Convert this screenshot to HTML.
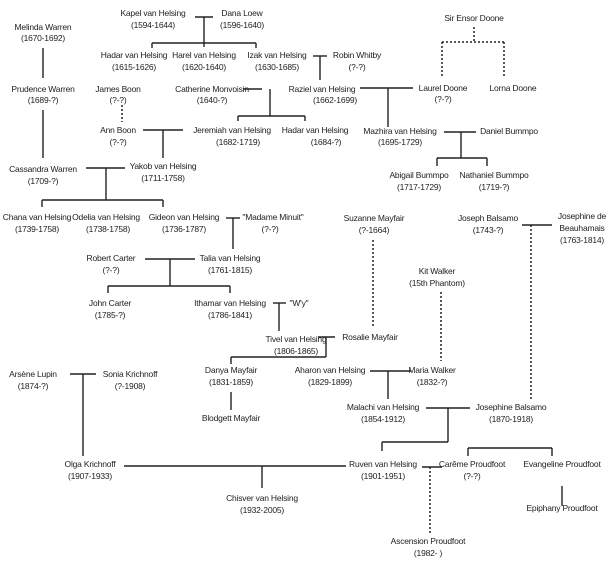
<!DOCTYPE html>
<html><head><meta charset="utf-8"><style>
html,body{margin:0;padding:0;background:#fff;}
svg{display:block;}
text{font-family:"Liberation Sans",Arial,sans-serif;font-size:8.5px;fill:#222;text-anchor:middle;letter-spacing:-0.2px;}
line{stroke:#222;stroke-width:1.4;}
.d{stroke-dasharray:2,2;stroke-width:1.5;}
</style></head><body>
<svg width="612" height="564" viewBox="0 0 612 564" xmlns="http://www.w3.org/2000/svg">
<text x="43" y="30">Melinda Warren</text><text x="43" y="41">(1670-1692)</text>
<text x="153" y="16">Kapel van Helsing</text><text x="153" y="28">(1594-1644)</text>
<text x="242" y="16">Dana Loew</text><text x="242" y="28">(1596-1640)</text>
<text x="134" y="58">Hadar van Helsing</text><text x="134" y="70">(1615-1626)</text>
<text x="204" y="58">Harel van Helsing</text><text x="204" y="70">(1620-1640)</text>
<text x="277" y="58">Izak van Helsing</text><text x="277" y="70">(1630-1685)</text>
<text x="357" y="58">Robin Whitby</text><text x="357" y="70">(?-?)</text>
<text x="474" y="21">Sir Ensor Doone</text>
<text x="43" y="92">Prudence Warren</text><text x="43" y="103">(1689-?)</text>
<text x="118" y="92">James Boon</text><text x="118" y="103">(?-?)</text>
<text x="212" y="92">Catherine Monvoisin</text><text x="212" y="103">(1640-?)</text>
<text x="322" y="92">Raziel van Helsing</text><text x="335" y="103">(1662-1699)</text>
<text x="443" y="91">Laurel Doone</text><text x="443" y="102">(?-?)</text>
<text x="513" y="91">Lorna Doone</text>
<text x="118" y="133">Ann Boon</text><text x="118" y="145">(?-?)</text>
<text x="232" y="133">Jeremiah van Helsing</text><text x="238" y="145">(1682-1719)</text>
<text x="315" y="133">Hadar van Helsing</text><text x="326" y="145">(1684-?)</text>
<text x="400" y="134">Mazhira van Helsing</text><text x="400" y="145">(1695-1729)</text>
<text x="509" y="134">Daniel Bummpo</text>
<text x="419" y="178">Abigail Bummpo</text><text x="419" y="190">(1717-1729)</text>
<text x="494" y="178">Nathaniel Bummpo</text><text x="494" y="190">(1719-?)</text>
<text x="43" y="172">Cassandra Warren</text><text x="43" y="184">(1709-?)</text>
<text x="163" y="169">Yakob van Helsing</text><text x="163" y="181">(1711-1758)</text>
<text x="37" y="220">Chana van Helsing</text><text x="37" y="232">(1739-1758)</text>
<text x="106" y="220">Odelia van Helsing</text><text x="108" y="232">(1738-1758)</text>
<text x="184" y="220">Gideon van Helsing</text><text x="184" y="232">(1736-1787)</text>
<text x="273" y="220">"Madame Minuit"</text><text x="270" y="232">(?-?)</text>
<text x="374" y="221">Suzanne Mayfair</text><text x="374" y="233">(?-1664)</text>
<text x="488" y="221">Joseph Balsamo</text><text x="488" y="233">(1743-?)</text>
<text x="582" y="219">Josephine de</text><text x="582" y="231">Beauhamais</text><text x="582" y="243">(1763-1814)</text>
<text x="111" y="261">Robert Carter</text><text x="111" y="273">(?-?)</text>
<text x="230" y="261">Talia van Helsing</text><text x="230" y="273">(1761-1815)</text>
<text x="437" y="274">Kit Walker</text><text x="437" y="286">(15th Phantom)</text>
<text x="110" y="306">John Carter</text><text x="110" y="318">(1785-?)</text>
<text x="230" y="306">Ithamar van Helsing</text><text x="230" y="318">(1786-1841)</text>
<text x="299" y="306">"W'y"</text>
<text x="296" y="342">Tivel van Helsing</text><text x="296" y="354">(1806-1865)</text>
<text x="370" y="340">Rosalie Mayfair</text>
<text x="33" y="377">Arsène Lupin</text><text x="33" y="389">(1874-?)</text>
<text x="130" y="377">Sonia Krichnoff</text><text x="130" y="389">(?-1908)</text>
<text x="231" y="373">Danya Mayfair</text><text x="231" y="385">(1831-1859)</text>
<text x="330" y="373">Aharon van Helsing</text><text x="330" y="385">(1829-1899)</text>
<text x="432" y="373">Maria Walker</text><text x="432" y="385">(1832-?)</text>
<text x="231" y="421">Blodgett Mayfair</text>
<text x="383" y="410">Malachi van Helsing</text><text x="383" y="422">(1854-1912)</text>
<text x="511" y="410">Josephine Balsamo</text><text x="511" y="422">(1870-1918)</text>
<text x="90" y="467">Olga Krichnoff</text><text x="90" y="479">(1907-1933)</text>
<text x="383" y="467">Ruven van Helsing</text><text x="383" y="479">(1901-1951)</text>
<text x="472" y="467">Carême Proudfoot</text><text x="472" y="479">(?-?)</text>
<text x="562" y="467">Evangeline Proudfoot</text>
<text x="262" y="501">Chisver van Helsing</text><text x="262" y="513">(1932-2005)</text>
<text x="562" y="511">Epiphany Proudfoot</text>
<text x="428" y="544">Ascension Proudfoot</text><text x="428" y="556">(1982- )</text>
<line x1="195" y1="17" x2="213" y2="17"/><line x1="204" y1="17" x2="204" y2="47"/>
<line x1="152" y1="43" x2="256" y2="43"/><line x1="152" y1="43" x2="152" y2="48"/><line x1="256" y1="43" x2="256" y2="48"/>
<line x1="313" y1="56" x2="327" y2="56"/><line x1="320" y1="56" x2="320" y2="80"/>
<line x1="43" y1="48" x2="43" y2="78"/>
<line x1="43" y1="110" x2="43" y2="158"/>
<line class="d" x1="122" y1="105" x2="122" y2="122"/>
<line x1="243" y1="89" x2="262" y2="89"/><line x1="270" y1="89" x2="270" y2="116"/>
<line x1="238" y1="116" x2="305" y2="116"/><line x1="238" y1="116" x2="238" y2="121"/><line x1="305" y1="116" x2="305" y2="121"/>
<line x1="360" y1="88" x2="413" y2="88"/><line x1="388" y1="88" x2="388" y2="127"/>
<line class="d" x1="474" y1="27" x2="474" y2="42"/><line class="d" x1="442" y1="42" x2="504" y2="42"/>
<line class="d" x1="442" y1="42" x2="442" y2="78"/><line class="d" x1="504" y1="42" x2="504" y2="78"/>
<line x1="143" y1="130" x2="183" y2="130"/><line x1="163" y1="130" x2="163" y2="158"/>
<line x1="444" y1="132" x2="476" y2="132"/><line x1="461" y1="132" x2="461" y2="158"/>
<line x1="437" y1="158" x2="487" y2="158"/><line x1="437" y1="158" x2="437" y2="166"/><line x1="487" y1="158" x2="487" y2="166"/>
<line x1="86" y1="168" x2="125" y2="168"/><line x1="106" y1="168" x2="106" y2="200"/>
<line x1="42" y1="200" x2="163" y2="200"/><line x1="42" y1="200" x2="42" y2="207"/><line x1="163" y1="200" x2="163" y2="207"/>
<line x1="226" y1="218" x2="240" y2="218"/><line x1="233" y1="218" x2="233" y2="249"/>
<line x1="145" y1="259" x2="195" y2="259"/><line x1="170" y1="259" x2="170" y2="286"/>
<line x1="108" y1="286" x2="230" y2="286"/><line x1="108" y1="286" x2="108" y2="293"/><line x1="230" y1="286" x2="230" y2="293"/>
<line x1="273" y1="303" x2="286" y2="303"/><line x1="279" y1="303" x2="279" y2="331"/>
<line x1="318" y1="337" x2="335" y2="337"/><line x1="326" y1="337" x2="326" y2="357"/>
<line x1="231" y1="357" x2="326" y2="357"/><line x1="231" y1="357" x2="231" y2="364"/>
<line class="d" x1="373" y1="240" x2="373" y2="328"/>
<line x1="522" y1="225" x2="552" y2="225"/><line class="d" x1="531" y1="225" x2="531" y2="400"/>
<line class="d" x1="441" y1="292" x2="441" y2="361"/>
<line x1="231" y1="392" x2="231" y2="410"/>
<line x1="370" y1="371" x2="411" y2="371"/><line x1="388" y1="371" x2="388" y2="399"/>
<line x1="70" y1="374" x2="96" y2="374"/><line x1="83" y1="374" x2="83" y2="456"/>
<line x1="426" y1="408" x2="470" y2="408"/><line x1="448" y1="408" x2="448" y2="442"/>
<line x1="382" y1="442" x2="448" y2="442"/><line x1="382" y1="442" x2="382" y2="451"/>
<line x1="124" y1="466" x2="346" y2="466"/><line x1="262" y1="466" x2="262" y2="488"/>
<line x1="422" y1="467" x2="442" y2="467"/><line class="d" x1="430" y1="467" x2="430" y2="535"/>
<line x1="468" y1="448" x2="552" y2="448"/><line x1="468" y1="448" x2="468" y2="456"/><line x1="552" y1="448" x2="552" y2="456"/>
<line x1="562" y1="486" x2="562" y2="506"/>
</svg>
</body></html>
